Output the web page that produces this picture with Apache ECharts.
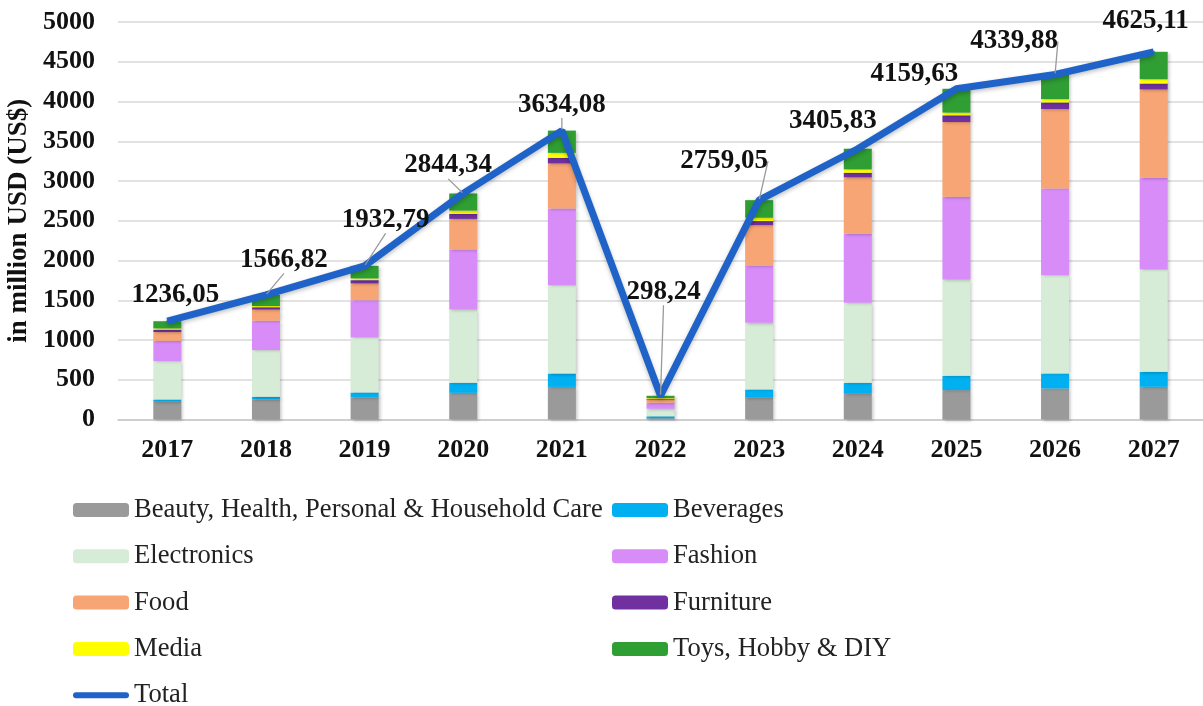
<!DOCTYPE html>
<html>
<head>
<meta charset="utf-8">
<script src="https://cdn.jsdelivr.net/npm/echarts@6/dist/echarts.min.js"></script>
<style>
  html, body { margin: 0; padding: 0; background: #fff; }
  #chart { width: 1203px; height: 706px; }
</style>
</head>
<body>
<div id="chart"></div>
<script>
// Market size by product category, in million USD
const years = ['2017', '2018', '2019', '2020', '2021', '2022', '2023', '2024', '2025', '2026', '2027'];

const beauty      = [222, 252, 277, 335, 410, 15, 273, 323, 370, 390, 411];
const beverages   = [30, 34, 63, 126, 168, 25, 105, 138, 180, 189, 189];
const electronics = [482, 587, 692, 922, 1111, 95, 839, 1006, 1210, 1237, 1287];
const fashion     = [256, 369, 469, 755, 965, 75, 713, 868, 1042, 1090, 1153];
const food        = [110, 140, 210, 385, 566, 40, 516, 710, 940, 998, 1111];
const furniture   = [30, 30, 42, 63, 71, 12, 50, 59, 84, 84, 75];
const media       = [16, 15, 21, 42, 63, 8, 42, 42, 34, 42, 54];
const toys        = [90, 140, 159, 215, 280, 28, 221, 260, 300, 310, 345];

const totals = [1236.05, 1566.82, 1932.79, 2844.34, 3634.08, 298.24, 2759.05, 3405.83, 4159.63, 4339.88, 4625.11];

const yTicks = { min: 0, max: 5000, interval: 500 };

// label placement for the totals: [dx, dy] from the point, and whether a leader line is drawn
const labelShift = [
  [8, -26, false], [18, -35, true], [21, -46, true], [-15, -28, true], [0, -26, true],
  [3, -104, true], [-35, -39, true], [-25, -28, false], [-42, -15, false], [-41, -33, true], [-8, -31, false]
];

const serif = '"Liberation Serif", "Times New Roman", serif';

const barSeries = [
  ['Beauty, Health, Personal & Household Care', beauty, '#9a9a9a'],
  ['Beverages', beverages, '#00b0f0'],
  ['Electronics', electronics, '#d6ecd6'],
  ['Fashion', fashion, '#d88cf8'],
  ['Food', food, '#f7a574'],
  ['Furniture', furniture, '#7030a0'],
  ['Media', media, '#ffff00'],
  ['Toys, Hobby & DIY', toys, '#2f9e33']
].map(([name, data, color]) => ({
  name,
  type: 'bar',
  stack: 'sales',
  barWidth: 28,
  data,
  itemStyle: {
    color,
    shadowColor: 'rgba(0,0,0,0.22)',
    shadowBlur: 3,
    shadowOffsetX: 2,
    shadowOffsetY: 1
  },
  emphasis: { disabled: true }
}));

const totalSeries = {
  name: 'Total',
  type: 'line',
  data: totals.map((v, i) => ({
    value: v,
    labelLine: { show: labelShift[i][2] }
  })),
  symbol: 'circle',
  symbolSize: 2,
  itemStyle: { color: '#1f63c8' },
  lineStyle: {
    color: '#1f63c8',
    width: 7,
    shadowColor: 'rgba(0,0,0,0.25)',
    shadowBlur: 4,
    shadowOffsetY: 2
  },
  z: 5,
  label: {
    show: true,
    position: 'inside',
    fontFamily: serif,
    fontWeight: 'bold',
    fontSize: 27,
    color: '#111',
    formatter: p => p.value.toFixed(2).replace('.', ',')
  },
  labelLine: {
    show: true,
    lineStyle: { color: '#9a9a9a', width: 1.3 }
  },
  labelLayout: p => ({ dx: labelShift[p.dataIndex][0], dy: labelShift[p.dataIndex][1] }),
  emphasis: { disabled: true }
};

const legendText = { fontFamily: serif, fontSize: 26.6, color: '#222' };
const totalIcon = 'path://M3,0 L53,0 A3,3 0 0 1 53,6 L3,6 A3,3 0 0 1 3,0 Z';
const legendBase = {
  orient: 'vertical', top: 496.5, padding: 0,
  itemWidth: 56, itemHeight: 14, itemGap: 19.3,
  textStyle: legendText
};

const option = {
  animation: false,
  backgroundColor: '#fff',
  grid: { left: 118, right: 0, top: 22, bottom: 286.5, outerBoundsMode: 'none', containLabel: false },
  legend: [
    Object.assign({}, legendBase, {
      left: 73,
      data: ['Beauty, Health, Personal & Household Care', 'Electronics', 'Food', 'Media']
    }),
    Object.assign({}, legendBase, {
      left: 612,
      data: ['Beverages', 'Fashion', 'Furniture', 'Toys, Hobby & DIY']
    }),
    Object.assign({}, legendBase, {
      left: 73, top: 681.7,
      data: [{ name: 'Total', icon: totalIcon }]
    })
  ],
  xAxis: {
    type: 'category',
    data: years,
    axisLine: { lineStyle: { color: '#c8c8c8', width: 1.5 } },
    axisTick: { show: false },
    axisLabel: { fontFamily: serif, fontWeight: 'bold', fontSize: 26, color: '#111', margin: 18 }
  },
  yAxis: {
    type: 'value',
    min: yTicks.min, max: yTicks.max, interval: yTicks.interval,
    name: 'in million USD (US$)',
    nameLocation: 'middle',
    nameRotate: 90,
    nameGap: 83.5,
    nameTextStyle: { fontFamily: serif, fontWeight: 'bold', fontSize: 27, color: '#111' },
    axisLine: { show: false },
    axisTick: { show: false },
    splitLine: { lineStyle: { color: '#d9d9d9', width: 1.5 } },
    axisLabel: {
      fontFamily: serif, fontWeight: 'bold', fontSize: 26, color: '#111', margin: 23,
      formatter: v => String(v)
    }
  },
  series: [...barSeries, totalSeries]
};

const chart = echarts.init(document.getElementById('chart'), null, { renderer: 'canvas' });
chart.setOption(option);
</script>
</body>
</html>
